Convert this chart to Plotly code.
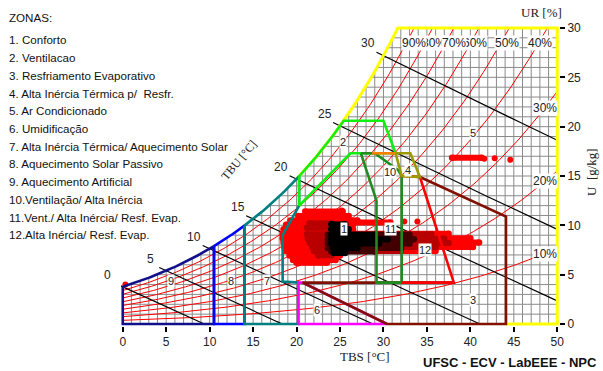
import numpy as np
import plotly.graph_objects as go

P_ATM = 101.325

# ---------------- data ----------------
legend_lines = ["ZONAS:", "1. Conforto", "2. Ventilacao", "3. Resfriamento Evaporativo",
                "4. Alta Inércia Térmica p/  Resfr.", "5. Ar Condicionado", "6. Umidificação",
                "7. Alta Inércia Térmica/ Aquecimento Solar", "8. Aquecimento Solar Passivo",
                "9. Aquecimento Artificial", "10.Ventilação/ Alta Inércia",
                "11.Vent./ Alta Inércia/ Resf. Evap.", "12.Alta Inércia/ Resf. Evap."]

x_ticks = [0, 5, 10, 15, 20, 25, 30, 35, 40, 45, 50]
y_ticks = [0, 5, 10, 15, 20, 25, 30]
rh_levels = [10, 20, 30, 40, 50, 60, 70, 80, 90]
twb_levels = [0, 5, 10, 15, 20, 25, 30]

# zone outlines: (saturation-curve span, then vertices)  TBS [C], U [g/kg]
zone9_sat = (0.0, 10.5);  zone9_pts = [(10.5, 0), (0, 0)]
zone8_sat = (10.5, 14.0); zone8_pts = [(14, 0), (10.5, 0)]
zone7_sat = (14.0, 20.3); zone7_pts = [(20.3, 12.0), (18.4, 9.0), (18.4, 4.3), (20.2, 4.2), (20.2, 0), (14, 0)]
zone2_top = 20.6
zone2_pts = [(30.0, 20.6), (31.4, 17.3), (26.2, 17.3), (20.3, 12.0)]
zone6_pts = [(20.2, 0), (30.4, 0), (20.7, 4.2), (20.2, 4.2), (20.2, 0)]
zone3_pts = [(34.2, 14.9), (44.1, 10.9), (44.1, 0), (30.4, 0), (20.7, 4.2), (38.1, 4.2)]
zone10_pts = [(27.4, 17.3), (29.0, 17.3), (31.7, 15.6), (32.1, 15.0), (32.1, 4.2), (29.2, 4.2), (29.2, 12.5), (27.4, 17.3)]
orange_pts = [(28.7, 17.3), (31.4, 17.3)]
zone12_pts = [(32.1, 15.0), (34.2, 14.9), (38.1, 4.2), (32.1, 4.2)]
zone4_pts = [(31.4, 17.3), (33.1, 17.3), (34.2, 14.9), (32.1, 15.0), (31.4, 17.3)]

zone_labels = ["1", "2", "3", "4", "5", "6", "7", "8", "9", "10", "11", "12"]
zone_label_T = [25.5, 25.4, 40.3, 32.8, 40.3, 22.4, 16.6, 12.5, 5.6, 30.8, 30.8, 34.8]
zone_label_U = [9.6, 18.4, 2.4, 15.6, 19.4, 1.4, 4.4, 4.4, 4.4, 15.4, 9.6, 7.5]

# climate data cloud: streaks of hourly points (U, TBS start, TBS end)
red_rows = [(11.4, 21.0, 25.3), (10.95, 20.2, 26.0), (10.5, 19.3, 27.0), (10.3, 26.5, 30.8),
            (10.05, 18.8, 26.5), (9.6, 18.5, 26.5), (9.15, 18.4, 37.5), (8.7, 18.4, 40.0),
            (8.25, 18.5, 41.0), (7.8, 18.6, 40.3), (7.4, 18.8, 36.0), (6.95, 19.2, 25.0),
            (6.5, 19.6, 24.5), (6.2, 20.0, 23.5), (16.85, 37.9, 41.3)]
darkred_rows = [(10.2, 21.5, 24.0), (9.75, 21.2, 25.5), (9.1, 21.2, 35.5), (8.65, 21.3, 37.0),
                (8.2, 21.5, 37.5), (7.8, 21.8, 36.0), (7.4, 22.0, 32.0), (6.95, 22.5, 24.0)]
verydark_rows = [(9.05, 23.6, 33.0), (8.6, 23.6, 33.5), (8.15, 23.6, 33.0), (7.7, 23.6, 32.0), (7.35, 24.0, 29.0)]
black_rows = [(10.1, 24.0, 25.6), (9.6, 24.0, 26.0), (9.05, 24.0, 29.0), (8.6, 24.0, 30.5),
              (8.15, 24.0, 29.5), (7.7, 24.2, 27.0), (7.2, 24.3, 25.6)]
loose_T = [25.2, 32.4, 33.9, 41.6, 42.8, 44.6, 0.3]
loose_U = [11.5, 10.4, 10.4, 16.75, 16.8, 16.65, 4.0]

# ---------------- psychrometrics ----------------
def ps(T):
    return 0.61078 * np.exp(17.27 * T / (T + 237.3))

def w_rh(T, phi):
    p = phi * ps(T)
    return 622.0 * p / (P_ATM - p)

def t_at_w(W, phi=1.0):
    lo, hi = -10.0, 80.0
    for _ in range(60):
        mid = 0.5 * (lo + hi)
        if w_rh(mid, phi) < W:
            lo = mid
        else:
            hi = mid
    return 0.5 * (lo + hi)

def w_wb(T, Twb):
    ws = w_rh(Twb, 1.0) / 1000.0
    return 1000.0 * ((2501 - 2.326 * Twb) * ws - 1.006 * (T - Twb)) / (2501 + 1.86 * T - 4.186 * Twb)

def sat_path(t0, t1, n=40):
    ts = np.linspace(t0, t1, n)
    return [(t, w_rh(t, 1.0)) for t in ts]

fig = go.Figure()

def add_path(pts, color, width, close=False):
    xs = [p[0] for p in pts]
    ys = [p[1] for p in pts]
    if close:
        xs.append(pts[0][0]); ys.append(pts[0][1])
    fig.add_trace(go.Scatter(x=xs, y=ys, mode="lines", line=dict(color=color, width=width),
                             hoverinfo="skip", showlegend=False))

# grid (clipped under saturation curve)
T_top = t_at_w(30.0)
gx, gy = [], []
for t in range(0, 51):
    gx += [t, t, None]; gy += [0, min(30.0, w_rh(t, 1.0)), None]
for w in range(0, 31):
    gx += [max(0.0, t_at_w(w)), 50, None]; gy += [w, w, None]
fig.add_trace(go.Scatter(x=gx, y=gy, mode="lines", line=dict(color="#8a8a8a", width=1),
                         hoverinfo="skip", showlegend=False))

# RH curves
for rh in rh_levels:
    phi = rh / 100.0
    tend = min(50.0, t_at_w(30.0, phi))
    ts = np.linspace(0, tend, 120)
    fig.add_trace(go.Scatter(x=ts, y=[w_rh(t, phi) for t in ts], mode="lines",
                             line=dict(color="#ff0000", width=1), hoverinfo="skip", showlegend=False))

# wet-bulb lines
for twb in twb_levels:
    ws = w_rh(twb, 1.0) / 1000.0
    t_zero = twb + (2501 - 2.326 * twb) * ws / 1.006
    tend = min(50.0, t_zero)
    ts = np.linspace(twb - 0.8, tend, 60)
    fig.add_trace(go.Scatter(x=ts, y=[max(0.0, w_wb(t, twb)) for t in ts], mode="lines",
                             line=dict(color="#000000", width=1.2), hoverinfo="skip", showlegend=False))

# climate data cloud
def add_rows(rows, color, size):
    xs, ys = [], []
    for (w, t0, t1) in rows:
        xs += [t0, t1, None]; ys += [w, w, None]
    fig.add_trace(go.Scatter(x=xs, y=ys, mode="lines+markers",
                             line=dict(color=color, width=size),
                             marker=dict(color=color, size=size + 0.5),
                             hoverinfo="skip", showlegend=False))

add_rows(red_rows, "#ff0000", 6)
add_rows(darkred_rows, "#b80000", 6)
add_rows(verydark_rows, "#420000", 6)
add_rows(black_rows, "#000000", 6)
fig.add_trace(go.Scatter(x=loose_T, y=loose_U, mode="markers",
                         marker=dict(color="#ff0000", size=6), hoverinfo="skip", showlegend=False))

# frame (yellow)
frame = sat_path(20.0, T_top) + [(50, 30), (50, 0), (44.1, 0)]
add_path(frame, "#ffff00", 3)

# zones
LW = 2.6
add_path(sat_path(*zone9_sat) + zone9_pts, "#10108c", LW, close=True)
add_path(sat_path(*zone8_sat) + zone8_pts, "#0000ff", LW, close=True)
add_path(sat_path(*zone7_sat) + zone7_pts, "#008080", LW, close=True)
add_path(sat_path(20.3, t_at_w(zone2_top)) + zone2_pts, "#11ee11", LW, close=True)
add_path(zone6_pts, "#ff00ff", LW)
add_path(zone3_pts, "#801000", LW)
add_path(zone10_pts, "#1e8c1e", LW)
add_path(orange_pts, "#ff8000", LW)
add_path(zone12_pts, "#ff0000", LW)
add_path(zone4_pts, "#9c9a00", LW)

# ---------------- layout ----------------
W_FIG, H_FIG = 603, 371
L, R, T, B = 121, 44, 26, 45
pw, ph = W_FIG - L - R, H_FIG - T - B
XR = (-0.2, 50.2)
YR = (-0.2, 30.2)

def paper(px, py):
    return (px - L) / pw, (H_FIG - B - py) / ph

def data_paper(t, w):
    return (t - XR[0]) / (XR[1] - XR[0]), (w - YR[0]) / (YR[1] - YR[0])

ann = []
sans = "Liberation Sans, Arial, sans-serif"
serif = "Liberation Serif, Times New Roman, serif"

def pann(px, py, text, size, family=sans, angle=0, xanchor="center", color="#222"):
    x, y = paper(px, py)
    ann.append(dict(x=x, y=y, xref="paper", yref="paper", text=text, showarrow=False,
                    xanchor=xanchor, yanchor="middle", textangle=angle,
                    font=dict(family=family, size=size, color=color)))

# legend text
for i, txt in enumerate(legend_lines):
    py = 17.3 if i == 0 else 40.0 + (i - 1) * 17.7
    pann(7, py, txt, 11.6, xanchor="left", color="#111")

# wet bulb labels (paper refs so the one left of the axis is kept)
for twb in twb_levels:
    tl = twb - 1.75
    x, y = data_paper(tl, w_wb(tl, twb) + 0.5)
    ann.append(dict(x=x, y=y, xref="paper", yref="paper", text=str(twb), showarrow=False,
                    xanchor="center", yanchor="middle", font=dict(family=sans, size=12, color="#222")))

# RH labels
order = [80, 60, 90, 70, 50, 40]
shift = {80: 0.2, 60: -0.5, 90: 0.0, 70: 0.0, 50: -0.2, 40: -0.8}
for rh in order:
    t = t_at_w(30.0, rh / 100.0) + shift[rh]
    ann.append(dict(x=t, y=28.5, xref="x", yref="y", text=f"{rh}%", showarrow=False,
                    xanchor="center", yanchor="middle",
                    bgcolor="white", borderpad=0, font=dict(family=sans, size=12, color="#222")))
for rh in [30, 20, 10]:
    ann.append(dict(x=48.6, y=w_rh(48.6, rh / 100.0), xref="x", yref="y", text=f"{rh}%",
                    xanchor="center", yanchor="middle",
                    showarrow=False, bgcolor="white", borderpad=0,
                    font=dict(family=sans, size=12, color="#222")))

# zone labels
for lab, tx, uy in zip(zone_labels, zone_label_T, zone_label_U):
    ann.append(dict(x=tx, y=uy, xref="x", yref="y", text=lab, showarrow=False, bgcolor="white",
                    xanchor="center", yanchor="middle",
                    borderpad=0, font=dict(family=sans, size=11, color="#222")))

# titles
pann(365, 356, "TBS [°C]", 13, family=serif)
pann(541, 12, "UR [%]", 13, family=serif)
pann(591, 172, "U  [g/kg]", 13, family=serif, angle=-90)
pann(239, 160, "TBU [°C]", 12, family=serif, angle=-50)
pann(510, 362, "<b>UFSC - ECV - LabEEE - NPC</b>", 13, color="#111")

fig.update_layout(
    width=W_FIG, height=H_FIG, margin=dict(l=L, r=R, t=T, b=B, autoexpand=False),
    paper_bgcolor="white", plot_bgcolor="white", showlegend=False, annotations=ann,
    xaxis=dict(range=list(XR), tickvals=x_ticks, ticks="outside", ticklen=5, tickwidth=2,
               tickcolor="black", showgrid=False, zeroline=False, showline=False,
               tickfont=dict(family=sans, size=12, color="#222")),
    yaxis=dict(range=list(YR), tickvals=y_ticks, side="right", ticks="outside", ticklen=5,
               tickwidth=2, tickcolor="black", showgrid=False, zeroline=False, showline=False,
               tickfont=dict(family=sans, size=12, color="#222")),
)

fig.write_html("out.html", config={"displayModeBar": False},
               post_script="document.body.style.margin='0px';document.body.style.padding='0px';")
